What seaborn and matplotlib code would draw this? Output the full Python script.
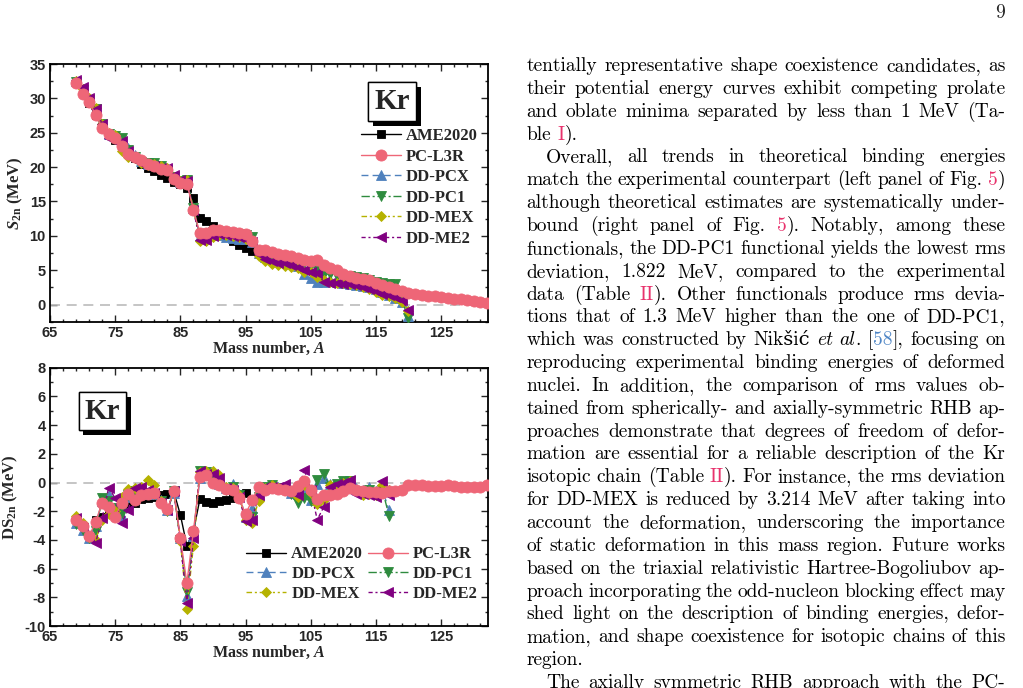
import re
import numpy as np
import seaborn as sns
import matplotlib.pyplot as plt
import matplotlib.patheffects as pe
from matplotlib.ticker import FixedLocator, MultipleLocator

# ---------------- data ----------------
A_EXP_S2N = np.arange(70, 97)
S2N_AME2020 = [30.9, 29.3, 27.6, 25.9, 24.7, 24.0, 23.1, 21.9, 21.3, 20.5, 19.9, 19.4, 18.8, 18.4,
               17.9, 17.5, 16.9, 15.5, 12.6, 12.1, 11.4, 10.6, 9.9, 9.3, 8.7, 8.2, 7.85]

A_PCL3R = np.arange(69, 133)
S2N_PCL3R = [32.2, 30.7, 29.5, 27.6, 25.7, 24.8, 24.3, 23.1, 21.9, 21.4, 21.0, 20.5, 20.2, 19.7,
             19.6, 18.2, 17.7, 17.6, 13.8, 10.4, 10.4, 10.8, 10.8, 10.7, 10.6, 10.4, 10.2, 9.2,
             8.0, 7.9, 7.6, 7.4, 7.2, 7.0, 6.8, 6.5, 6.3, 6.5, 5.8, 5.3, 5.0, 4.5, 4.2, 3.9,
             3.7, 3.5, 3.2, 2.9, 2.6, 2.2, 1.9, 1.65, 1.5, 1.4, 1.3, 1.2, 1.05, 0.95, 0.85, 0.75,
             0.65, 0.5, 0.4, 0.25]

A_DD_S2N = np.arange(69, 121)
S2N_DDPCX = [32.5, 31.3, 29.9, 28.3, 26.3, 24.8, 24.6, 24.0, 22.8, 21.7, 20.9, 20.5, 20.3, 20.1,
             19.7, 18.5, 17.8, 17.9, 14.0, 9.9, 9.9, 10.2, 10.1, 9.8, 9.7, 9.6, 9.5, 9.1,
             7.5, 6.9, 6.7, 6.4, 6.2, 6.0, 5.6, 4.4, 3.8, 3.3, 3.3, 3.5, 3.3, 3.2, 3.0, 2.9,
             2.7, 2.5, 2.2, 1.8, 1.4, 1.0, 0.3, -1.7]
S2N_DDPC1 = [32.4, 31.2, 29.8, 28.4, 26.2, 24.8, 24.5, 24.3, 22.5, 21.4, 20.8, 20.6, 20.6, 20.1,
             19.6, 18.5, 18.0, 18.1, 14.0, 10.0, 10.0, 10.5, 10.5, 10.4, 10.3, 10.2, 10.1, 9.8,
             7.6, 7.2, 7.0, 6.7, 6.6, 6.4, 6.2, 6.0, 5.8, 5.2, 4.5, 4.4, 4.2, 4.2, 4.1, 4.0,
             3.8, 3.6, 3.3, 3.1, 3.0, 3.0, 0.6, -2.0]
S2N_DDMEX = [32.5, 31.4, 30.1, 28.6, 26.3, 25.0, 24.6, 22.3, 21.5, 21.3, 20.6, 20.3, 20.5, 20.1,
             19.9, 18.6, 18.0, 18.1, 13.9, 9.2, 9.3, 9.8, 10.1, 10.1, 10.0, 9.8, 9.6, 9.3,
             7.1, 6.3, 5.9, 5.8, 5.6, 5.5, 5.3, 4.7, 4.8, 4.0, 3.5, 3.3, 3.2, 3.1, 3.0, 2.8,
             2.5, 2.2, 1.8, 1.4, 1.2, 1.0, 0.4, -0.9]
S2N_DDME2 = [32.7, 31.6, 30.1, 28.4, 26.3, 24.2, 23.8, 23.8, 22.4, 21.0, 20.6, 20.2, 20.1, 19.9,
             19.9, 18.8, 18.1, 18.0, 13.8, 9.4, 9.4, 10.0, 10.2, 10.1, 10.0, 9.8, 9.6, 9.1,
             7.4, 6.6, 6.3, 6.1, 6.0, 5.8, 5.5, 5.0, 4.8, 4.6, 3.3, 3.2, 3.1, 3.0, 3.0, 2.8,
             2.5, 2.2, 1.9, 1.6, 1.4, 1.1, 0.6, -0.8]

A_EXP_DS2N = np.arange(72, 96)
DS2N_AME2020 = [-2.6, -2.4, -1.9, -1.8, -1.6, -1.5, -1.4, -1.15, -1.05, -1.0, -0.85, -0.8,
                -0.65, -2.25, -4.4, -3.4, -1.15, -1.35, -1.45, -1.3, -1.2, -1.1, -0.9, -0.75]

DS2N_PCL3R = [-2.6, -3.05, -3.75, -2.75, -1.4, -1.7, -2.4, -1.4, -0.8, -1.2, -0.9, -0.8, -0.7,
              -1.4, -1.85, -0.6, -3.85, -7.0, -3.4, 0.4, 0.5, -0.05, -0.2, -0.45, -0.5, -1.1,
              -2.2, -1.25, -0.3, -0.5, -0.4, -0.45, -0.55, -0.6, -0.25, 0.1, -0.5, -1.15, -0.85,
              -0.85, -0.8, -0.6, -0.4, -0.5, -0.6, -0.65, -0.65, -0.7, -0.6, -0.6, -0.5, -0.2,
              -0.15, -0.2, -0.25, -0.25, -0.25, -0.2, -0.25, -0.3, -0.3, -0.3, -0.3, -0.2]

A_DD_DS2N = np.arange(69, 118)
DS2N_DDPCX = [-2.8, -3.3, -3.9, -3.0, -1.3, -0.9, -1.9, -2.3, -1.0, -0.6, -0.8, -0.8, -0.8,
              -1.2, -1.9, -0.7, -3.9, -7.9, -3.7, 0.3, 0.5, 0.4, -0.1, -0.4, -0.1, -0.8, -2.4,
              -1.8, -0.9, -0.4, -0.2, -0.3, -0.4, -0.7, -0.8, -0.6, -1.2, -0.1, 0.3, -0.1, -0.5,
              -0.3, 0.0, -0.4, -0.5, -0.3, -0.6, -0.5, -1.9]
DS2N_DDPC1 = [-2.9, -3.3, -3.9, -3.4, -1.1, -1.3, -1.8, -2.1, -0.9, -0.6, -0.5, -0.7, -0.8,
              -1.3, -2.0, -0.6, -4.0, -7.6, -3.7, 0.8, 0.7, 0.3, -0.2, -0.5, -0.3, -0.9, -2.6,
              -2.4, -1.0, -0.3, -0.2, -0.4, -0.5, -0.8, -1.4, -1.1, -1.3, 0.2, 0.6, -0.3, -0.1,
              0.1, 0.1, -0.6, -0.7, -0.5, -0.7, -0.5, -2.3]
DS2N_DDMEX = [-2.3, -2.8, -3.8, -4.0, -2.6, -2.2, -2.0, -1.0, -0.45, -0.4, -0.3, 0.15, -0.2,
              -1.3, -1.9, -0.6, -4.1, -8.8, -4.4, 0.7, 0.8, 0.8, 0.5, -0.3, -0.4, -0.9, -2.6,
              -2.8, -1.3, -0.4, -0.2, -0.4, -0.3, -0.6, -1.0, -0.2, -0.7, -1.5, -1.2, -0.2,
              -0.3, 0.0, 0.1, -0.6, -0.9, -0.8, -0.9, -0.2, -0.5]
DS2N_DDME2 = [-2.5, -3.2, -3.9, -4.2, -2.5, -0.35, -1.1, -2.8, -1.9, -0.4, -0.3, -0.5, -0.7,
              -1.4, -1.9, -0.6, -4.1, -8.4, -3.9, 0.8, 0.6, 0.6, 0.3, -0.4, -0.5, -1.0, -2.7,
              -2.6, -0.9, -0.3, -0.3, -0.3, -0.1, -0.5, -0.9, 0.9, -0.5, -2.6, -1.7, -0.3,
              -0.1, 0.0, 0.15, -0.8, -0.8, -0.9, -1.0, 0.1, -0.9]

NAMES = ["AME2020", "PC-L3R", "DD-PCX", "DD-PC1", "DD-MEX", "DD-ME2"]

# body text of the page, {p:..} pink link, {b:..} blue cite, {i:..} italic
BODY = [
    ("tentially representative shape coexistence candidates, as", 0, True),
    ("their potential energy curves exhibit competing prolate", 0, True),
    ("and oblate minima separated by less than 1 MeV (Ta-", 0, True),
    ("ble {p:I}).", 0, False),
    ("Overall, all trends in theoretical binding energies", 1, True),
    ("match the experimental counterpart (left panel of Fig. {p:5})", 0, True),
    ("although theoretical estimates are systematically under-", 0, True),
    ("bound (right panel of Fig. {p:5}).  Notably, among these", 0, True),
    ("functionals, the DD-PC1 functional yields the lowest rms", 0, True),
    ("deviation, 1.822 MeV, compared to the experimental", 0, True),
    ("data (Table {p:II}). Other functionals produce rms devia-", 0, True),
    ("tions that of 1.3 MeV higher than the one of DD-PC1,", 0, True),
    ("which was constructed by Nikšić {i:et} {i:al}. [{b:58}], focusing on", 0, True),
    ("reproducing experimental binding energies of deformed", 0, True),
    ("nuclei.  In addition, the comparison of rms values ob-", 0, True),
    ("tained from spherically- and axially-symmetric RHB ap-", 0, True),
    ("proaches demonstrate that degrees of freedom of defor-", 0, True),
    ("mation are essential for a reliable description of the Kr", 0, True),
    ("isotopic chain (Table {p:II}). For instance, the rms deviation", 0, True),
    ("for DD-MEX is reduced by 3.214 MeV after taking into", 0, True),
    ("account the deformation, underscoring the importance", 0, True),
    ("of static deformation in this mass region.  Future works", 0, True),
    ("based on the triaxial relativistic Hartree-Bogoliubov ap-", 0, True),
    ("proach incorporating the odd-nucleon blocking effect may", 0, True),
    ("shed light on the description of binding energies, defor-", 0, True),
    ("mation, and shape coexistence for isotopic chains of this", 0, True),
    ("region.", 0, False),
    ("The axially symmetric RHB approach with the PC-", 1, True),
]

# ---------------- styling ----------------
sns.set_style("ticks")
plt.rcParams['font.family'] = ['Liberation Sans', 'DejaVu Sans']
plt.rcParams['axes.unicode_minus'] = False
plt.rcParams['mathtext.fontset'] = 'custom'
plt.rcParams['mathtext.rm'] = 'Liberation Serif:bold'
plt.rcParams['mathtext.it'] = 'Liberation Serif:italic:bold'
plt.rcParams['mathtext.bf'] = 'Liberation Serif:bold'

STY = {
    "AME2020": dict(color='black', marker='s', ms=5.5, ls='-', z=3),
    "PC-L3R": dict(color='#EE6677', marker='o', ms=8, ls='-', z=9),
    "DD-PCX": dict(color='#4F81BD', marker='^', ms=7.5, ls=(0, (5, 3)), z=4),
    "DD-PC1": dict(color='#2E8B3E', marker='v', ms=7.5, ls=(0, (6, 2, 1.5, 2)), z=5),
    "DD-MEX": dict(color='#B5B200', marker='D', ms=5.5, ls=(0, (4, 2, 1.5, 2, 1.5, 2)), z=6),
    "DD-ME2": dict(color='#800080', marker='<', ms=7.5, ls=(0, (3, 2, 1.5, 2)), z=7),
}

W, H = 1023, 688
fig = plt.figure(figsize=(W / 100, H / 100), dpi=100)
ax1 = fig.add_axes([50 / W, 1 - 321.7 / H, 438 / W, 257.7 / H])
ax2 = fig.add_axes([50 / W, 1 - 626 / H, 438 / W, 258.3 / H])


def draw(ax, name, x, y):
    s = STY[name]
    sns.lineplot(x=x, y=y, ax=ax, color=s['color'], marker=s['marker'], markersize=s['ms'],
                 linestyle=s['ls'], linewidth=1.0, markeredgecolor=s['color'],
                 markeredgewidth=0.6, label=name, zorder=s['z'], sort=False, estimator=None)


top = [(A_EXP_S2N, S2N_AME2020), (A_PCL3R, S2N_PCL3R), (A_DD_S2N, S2N_DDPCX),
       (A_DD_S2N, S2N_DDPC1), (A_DD_S2N, S2N_DDMEX), (A_DD_S2N, S2N_DDME2)]
bot = [(A_EXP_DS2N, DS2N_AME2020), (A_PCL3R, DS2N_PCL3R), (A_DD_DS2N, DS2N_DDPCX),
       (A_DD_DS2N, DS2N_DDPC1), (A_DD_DS2N, DS2N_DDMEX), (A_DD_DS2N, DS2N_DDME2)]
for name, (x, y) in zip(NAMES, top):
    draw(ax1, name, x, y)
for name, (x, y) in zip(NAMES, bot):
    draw(ax2, name, x, y)

legfont = dict(family='Liberation Serif', weight='bold', size=12)
for ax in (ax1, ax2):
    ax.axhline(0, color='#BBBBBB', ls=(0, (6, 4)), lw=1.2, zorder=1)
    ax.set_xlim(65, 132.2)
    ax.xaxis.set_major_locator(FixedLocator(np.arange(65, 126, 10)))
    ax.xaxis.set_minor_locator(FixedLocator(np.arange(65, 133, 2)))
    ax.tick_params(which='both', direction='in', top=True, right=True, width=1.0,
                   labelsize=10.5, pad=3)
    ax.tick_params(which='major', length=5)
    ax.tick_params(which='minor', length=2.5)
    for sp in ax.spines.values():
        sp.set_linewidth(1.3)
        sp.set_color('black')
    ax.set_xlabel(r"Mass number, $A$", fontsize=11.5, family='Liberation Serif',
                  fontweight='bold', labelpad=0)

ax1.set_ylim(-2.5, 35)
ax1.yaxis.set_major_locator(MultipleLocator(5))
ax1.yaxis.set_minor_locator(MultipleLocator(2.5))
ax2.set_ylim(-10, 8)
ax2.yaxis.set_major_locator(MultipleLocator(2))
ax2.yaxis.set_minor_locator(MultipleLocator(1))
for ax in (ax1, ax2):
    for lab in ax.get_xticklabels() + ax.get_yticklabels():
        lab.set_fontweight('bold')
ax1.set_ylabel(r"$S_{\mathbf{2n}}$ (MeV)", fontsize=12, family='Liberation Serif',
               fontweight='bold', labelpad=3)
ax2.set_ylabel(r"DS$_{\mathbf{2n}}$ (MeV)", fontsize=12, family='Liberation Serif',
               fontweight='bold', labelpad=3)

h, l = ax1.get_legend_handles_labels()
ax1.legend(h, l, loc='upper right', bbox_to_anchor=(1.0, 0.79), frameon=False, prop=legfont,
           handlelength=2.4, handletextpad=0.3, labelspacing=0.27, borderaxespad=0.2)
h, l = ax2.get_legend_handles_labels()
order = [0, 2, 4, 1, 3, 5]
ax2.legend([h[i] for i in order], [l[i] for i in order], loc='lower right',
           bbox_to_anchor=(1.0, 0.055), ncol=2, frameon=False, prop=legfont,
           handlelength=2.4, handletextpad=0.3, labelspacing=0.22, columnspacing=0.3,
           borderaxespad=0.2)

for ax, (kx, ky) in ((ax1, (0.781, 0.855)), (ax2, (0.119, 0.832))):
    t = ax.text(kx, ky, "Kr", transform=ax.transAxes, fontsize=21, fontweight='bold',
                family='Liberation Serif', ha='center', va='center', zorder=20,
                bbox=dict(boxstyle='square,pad=0.2', fc='white', ec='black', lw=1.0))
    t.get_bbox_patch().set_path_effects(
        [pe.withSimplePatchShadow(offset=(3.5, -3.5), shadow_rgbFace='black', alpha=1.0),
         pe.Normal()])

# ---------------- right-hand text column ----------------
FS = 14
RM = ['cmr10', 'DejaVu Serif']
TXT = {'n': dict(color='black', family=RM),
       'p': dict(color='#E8336D', family=RM),
       'b': dict(color='#4F86C6', family=RM),
       'i': dict(color='black', family=['cmmi10', 'DejaVu Serif'])}
renderer = fig.canvas.get_renderer()
X0, X1 = 526.5, 1005.5
Y0, DY = 71, 22.85
INDENT = 19.5
SPACE = 0.333 * FS * 100 / 72


def put_word(segs, x, y):
    arts = []
    for s, st in segs:
        t = fig.text(x / W, 1 - y / H, s, fontsize=FS, va='baseline', ha='left', **TXT[st])
        arts.append(t)
    return arts


def parse(word):
    out = []
    for m in re.finditer(r'\{(\w):([^}]*)\}|([^{]+)', word):
        out.append((m.group(2), m.group(1)) if m.group(1) else (m.group(3), 'n'))
    return out


for i, (line, ind, just) in enumerate(BODY):
    y = Y0 + i * DY
    words = [parse(w) for w in line.split()]
    groups = []
    total = 0
    for segs in words:
        arts = put_word(segs, 0, y)
        ws = [a.get_window_extent(renderer).width for a in arts]
        groups.append((arts, ws))
        total += sum(ws)
    x = X0 + ind * INDENT
    gap = (X1 - x - total) / (len(groups) - 1) if just and len(groups) > 1 else SPACE
    for arts, ws in groups:
        for a, w in zip(arts, ws):
            a.set_x(x / W)
            x += w
        x += gap

fig.text(1005.5 / W, 1 - 18.5 / H, "9", fontsize=FS, family=RM, ha='right', va='baseline')

fig.savefig("out.png", dpi=100)
